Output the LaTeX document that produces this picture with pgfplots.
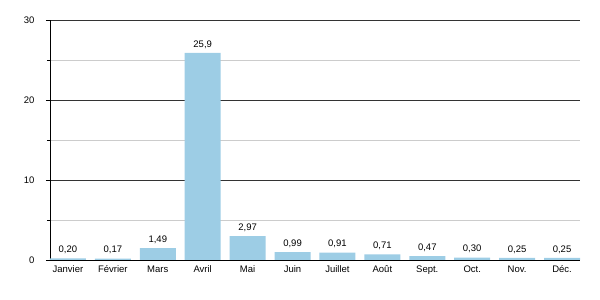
\documentclass[border=0pt]{standalone}
\usepackage{pgfplots}
\pgfplotsset{compat=1.18}
\usepackage{pgfplotstable}
\usepackage{fontspec}
\setmainfont{Liberation Sans}
\definecolor{barblue}{HTML}{9DCDE5}
\definecolor{majgrid}{HTML}{333333}
\definecolor{mingrid}{HTML}{CCCCCC}
\pgfplotstableread{
x y lab
0 0.20 0,20
1 0.17 0,17
2 1.49 1,49
3 25.9 25,9
4 2.97 2,97
5 0.99 0,99
6 0.91 0,91
7 0.71 0,71
8 0.47 0,47
9 0.30 0,30
10 0.25 0,25
11 0.25 0,25
}\datatable
\begin{document}
\begin{tikzpicture}[x=1pt,y=1pt]
\begin{axis}[
  scale only axis,
  width=530pt, height=240pt,
  xmin=-0.4, xmax=11.4,
  ymin=0, ymax=30,
  axis x line=bottom, axis y line=left,
  axis line style={-, black, line width=0.8pt},
  x axis line style={-},
  y axis line style={-},
  xtick=data,
  xticklabels={Janvier,Février,Mars,Avril,Mai,Juin,Juillet,Août,Sept.,Oct.,Nov.,Déc.},
  xtick style={draw=none},
  xticklabel style={yshift=2pt},
  ytick={0,10,20,30},
  minor ytick={5,15,25},
  tick align=outside,
  major tick length=4pt,
  minor tick length=3pt,
  ytick style={black, line width=0.6pt},
  yticklabel style={xshift=-8pt},
  ymajorgrids, yminorgrids,
  major grid style={majgrid, line width=0.9pt},
  minor grid style={mingrid, line width=0.8pt},
  tick label style={font=\fontsize{9.5}{11}\selectfont},
  /pgf/number format/assume math mode=true,
  clip=false,
  axis on top=false,
]
\addplot[ybar, bar width=0.8, fill=barblue, draw=none,
  nodes near coords, point meta=explicit symbolic,
  every node near coord/.append style={font=\fontsize{9.5}{11}\selectfont, black, yshift=1pt}]
  table[x=x, y=y, meta=lab] {\datatable};
\draw[black, line width=0.8pt] (rel axis cs:0,0) -- (rel axis cs:1,0);
\path (rel axis cs:-50/530,-40/240) rectangle (rel axis cs:1+20/530,1+20/240);
\end{axis}
\end{tikzpicture}
\end{document}
